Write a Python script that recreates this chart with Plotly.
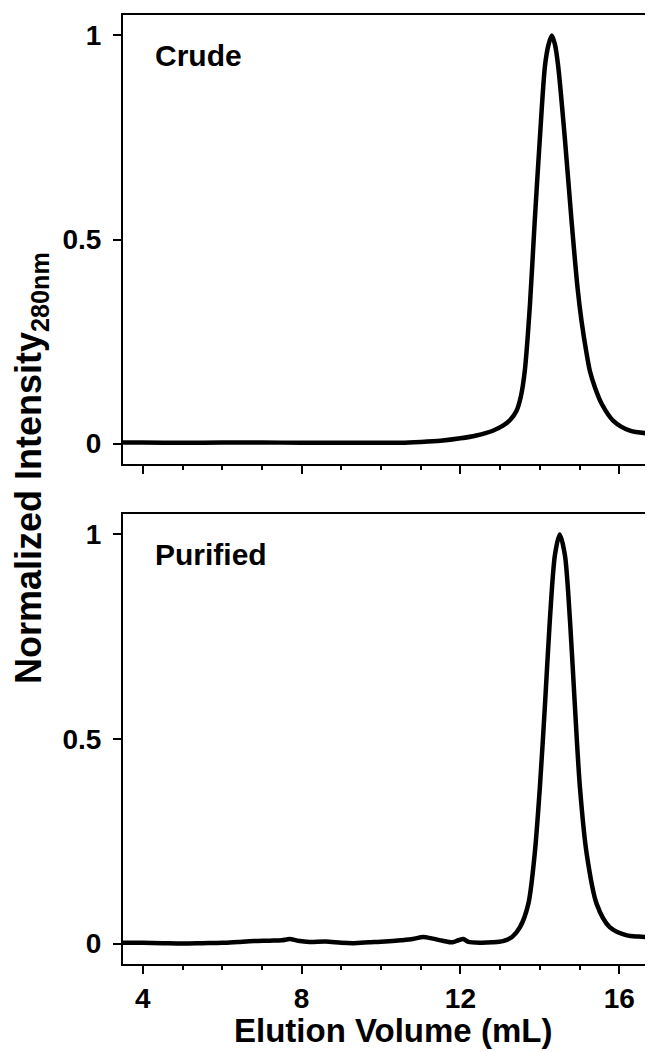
import plotly.graph_objects as go

# ---- data ----
crude_x = [3.5, 4.0, 5.0, 6.0, 7.0, 8.0, 9.0, 10.0, 10.5, 11.0, 11.5, 12.0, 12.4, 12.8,
           13.07, 13.25, 13.41, 13.52, 13.62, 13.75, 13.87, 14.0, 14.13, 14.22, 14.3,
           14.38, 14.46, 14.63, 14.8, 14.95, 15.05, 15.18, 15.26, 15.39, 15.56, 15.85,
           16.27, 16.85]
crude_y = [0.003, 0.003, 0.002, 0.003, 0.003, 0.002, 0.002, 0.002, 0.002, 0.004, 0.007,
           0.013, 0.02, 0.031, 0.044, 0.058, 0.08, 0.115, 0.178, 0.34, 0.544, 0.747,
           0.926, 0.978, 1.0, 0.978, 0.926, 0.747, 0.544, 0.381, 0.30, 0.219, 0.178,
           0.137, 0.097, 0.056, 0.032, 0.024]

purified_x = [3.5, 4.0, 4.5, 5.0, 5.5, 6.0, 6.4, 6.8, 7.2, 7.5, 7.7, 7.9, 8.2, 8.6, 9.0,
              9.3, 9.7, 10.1, 10.5, 10.8, 11.06, 11.3, 11.55, 11.8, 11.95, 12.07, 12.2,
              12.5, 12.8, 13.07, 13.3, 13.5, 13.71, 13.87, 14.0, 14.13, 14.25, 14.38,
              14.5, 14.63, 14.76, 14.88, 15.01, 15.18, 15.43, 15.76, 16.19, 16.5, 16.85]
purified_y = [0.002, 0.002, 0.001, 0.0, 0.001, 0.002, 0.004, 0.006, 0.007, 0.008, 0.011,
              0.007, 0.004, 0.005, 0.002, 0.001, 0.003, 0.005, 0.008, 0.011, 0.016, 0.012,
              0.007, 0.003, 0.008, 0.011, 0.004, 0.002, 0.003, 0.006, 0.016, 0.04, 0.097,
              0.219, 0.381, 0.585, 0.788, 0.95, 1.0, 0.95, 0.788, 0.585, 0.381, 0.219,
              0.097, 0.04, 0.02, 0.017, 0.015]

panel_labels = ["Crude", "Purified"]
y_ticks = [0, 0.5, 1]
y_ticktext = ["0", "0.5", "1"]
x_title = "Elution Volume (mL)"
y_title = "Normalized Intensity<sub>280nm</sub>"

FONT = "Liberation Sans, Arial, sans-serif"
OFF = 8  # page body margin offset

fig = go.Figure()
fig.add_trace(go.Scatter(x=crude_x, y=crude_y, mode="lines", xaxis="x2", yaxis="y2",
                         line=dict(color="black", width=4.5, shape="spline", smoothing=0.8),
                         showlegend=False))
fig.add_trace(go.Scatter(x=purified_x, y=purified_y, mode="lines", xaxis="x", yaxis="y",
                         line=dict(color="black", width=4.5, shape="spline", smoothing=0.8),
                         showlegend=False))

top_px, bot_px = 13, 964          # screen pixels of the plotting region
H = bot_px - top_px
top_dom = [(bot_px - 463) / H, 1.0]
bot_dom = [0.0, (bot_px - 513) / H]

xcommon = dict(range=[3.5, 16.85], tick0=0, dtick=4, ticks="outside", ticklen=8,
               tickwidth=2, tickcolor="black", showline=True, linewidth=2,
               linecolor="black", mirror=True, showgrid=False, zeroline=False,
               minor=dict(dtick=1, tick0=0, ticks="outside", ticklen=4, tickwidth=2,
                          tickcolor="black"),
               tickfont=dict(family=FONT, size=28, color="black", weight="bold"))
ycommon = dict(range=[-0.05, 1.05], tickmode="array", tickvals=y_ticks, ticktext=y_ticktext,
               ticks="outside", ticklen=8, tickwidth=2, tickcolor="black", showline=True,
               linewidth=2, linecolor="black", showgrid=False, zeroline=False,
               ticklabelstandoff=6,
               tickfont=dict(family=FONT, size=28, color="black", weight="bold"))

fig.update_layout(
    width=653, height=1052,
    margin=dict(l=123 - OFF, r=OFF, t=top_px - OFF, b=1052 - bot_px + OFF),
    paper_bgcolor="white", plot_bgcolor="white",
    xaxis=dict(**xcommon, anchor="y", domain=[0, 1]),
    xaxis2=dict(**xcommon, anchor="y2", domain=[0, 1], matches="x", showticklabels=False),
    yaxis=dict(**ycommon, anchor="x", domain=bot_dom),
    yaxis2=dict(**ycommon, anchor="x2", domain=top_dom),
)

annots = []
annots.append(dict(text="<b>%s</b>" % panel_labels[0], xref="x2", yref="y2", x=4.25, y=0.95,
                   xanchor="left", yanchor="middle", showarrow=False,
                   font=dict(family=FONT, size=30, color="black")))
annots.append(dict(text="<b>%s</b>" % panel_labels[1], xref="x", yref="y", x=4.25, y=0.95,
                   xanchor="left", yanchor="middle", showarrow=False,
                   font=dict(family=FONT, size=30, color="black")))
annots.append(dict(text="<b>%s</b>" % x_title, xref="paper", yref="paper", x=0.51, y=0,
                   yshift=-66, xanchor="center", yanchor="middle", showarrow=False,
                   font=dict(family=FONT, size=33, color="black")))
annots.append(dict(text="<b>%s</b>" % y_title, xref="paper", yref="paper", x=0, xshift=-92,
                   y=(bot_px - 467) / H, xanchor="center", yanchor="middle", textangle=-90,
                   showarrow=False, font=dict(family=FONT, size=36, color="black")))
fig.update_layout(annotations=annots)

fig.write_html("out.html")
